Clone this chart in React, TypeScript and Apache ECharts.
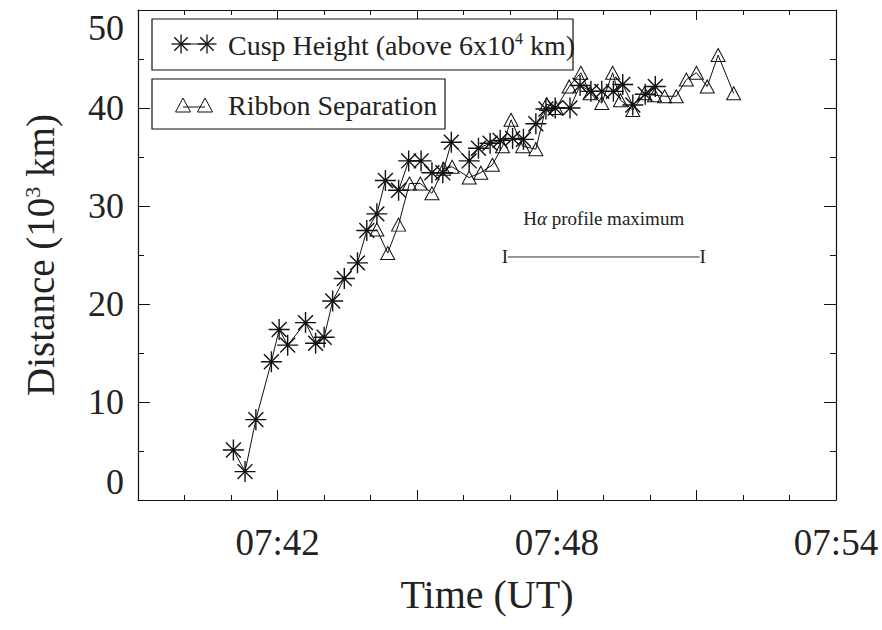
import React, { useEffect, useRef } from "react";
import * as echarts from "echarts";

// ---- data ----
const cuspTimes = [
  "07:41:03", "07:41:18", "07:41:32", "07:41:52", "07:42:02", "07:42:13", "07:42:36", "07:42:49",
  "07:43:00", "07:43:11", "07:43:26", "07:43:43", "07:43:55", "07:44:08", "07:44:19", "07:44:36",
  "07:44:49", "07:45:05", "07:45:19", "07:45:33", "07:45:44", "07:46:07", "07:46:19", "07:46:34",
  "07:46:47", "07:47:03", "07:47:17", "07:47:33", "07:47:46", "07:47:58", "07:48:17", "07:48:30",
  "07:48:44", "07:48:58", "07:49:13", "07:49:25", "07:49:38", "07:49:54", "07:50:07",
];
const cuspValues = [
  5.1, 2.9, 8.2, 14.1, 17.4, 15.8, 18.1, 16.0,
  16.6, 20.3, 22.6, 24.2, 27.5, 29.2, 32.6, 31.6,
  34.6, 34.6, 33.4, 33.4, 36.5, 34.6, 35.9, 36.4,
  36.7, 36.9, 36.8, 38.4, 39.9, 40.0, 40.0, 42.3,
  41.7, 41.7, 41.7, 42.4, 40.3, 41.4, 42.2,
];
const ribbonTimes = [
  "07:44:08", "07:44:22", "07:44:36", "07:44:50", "07:45:04", "07:45:19", "07:45:34", "07:45:45",
  "07:46:07", "07:46:22", "07:46:37", "07:46:50", "07:47:01", "07:47:16", "07:47:33", "07:47:47",
  "07:47:59", "07:48:16", "07:48:31", "07:48:43", "07:48:58", "07:49:12", "07:49:22", "07:49:38",
  "07:49:53", "07:50:06", "07:50:19", "07:50:34", "07:50:47", "07:51:00", "07:51:14", "07:51:28",
  "07:51:48",
];
const ribbonValues = [
  27.6, 25.2, 28.1, 32.3, 32.3, 31.3, 33.8, 34.0,
  32.9, 33.4, 34.2, 36.1, 38.8, 36.1, 35.8, 40.4,
  40.0, 42.2, 43.6, 41.5, 40.5, 43.6, 40.8, 39.8,
  41.5, 41.3, 41.2, 41.2, 42.9, 43.6, 42.2, 45.4,
  41.5,
];
const xTickLabels = ["07:42", "07:48", "07:54"];
const xRange = ["07:39", "07:54"];
const yRange = [0, 50];
const profileStart = "07:46:53";
const profileEnd = "07:51:08";
const profileLevel = 24.8;
const profileText = "H{it|α} profile maximum";
const legendCusp = "Cusp Height (above 6x10{sup|4} km)";
const legendRibbon = "Ribbon Separation";
const xTitle = "Time (UT)";
const yTitle = "Distance (10{sup|3} km)";

const FONT = "'Liberation Serif', 'Times New Roman', Times, serif";
const INK = "#111";

function toMinutes(s: string): number {
  const [h, m, sec] = s.split(":").map(Number);
  return h * 60 + m + (sec || 0) / 60;
}
function fmt(v: number): string {
  const h = Math.floor(v / 60);
  const m = Math.round(v - h * 60);
  return `${String(h).padStart(2, "0")}:${String(m).padStart(2, "0")}`;
}

const ASTERISK =
  "path://M10 0L10 20M0 10L20 10M2.9 2.9L17.1 17.1M2.9 17.1L17.1 2.9";

function asteriskGraphic(cx: number, cy: number, r: number, z: number) {
  const d = r * 0.7071;
  const seg = (x1: number, y1: number, x2: number, y2: number) => ({
    type: "line",
    z,
    shape: { x1, y1, x2, y2 },
    style: { stroke: INK, lineWidth: 1.3 },
  });
  return [
    seg(cx - r, cy, cx + r, cy),
    seg(cx, cy - r, cx, cy + r),
    seg(cx - d, cy - d, cx + d, cy + d),
    seg(cx - d, cy + d, cx + d, cy - d),
  ];
}
function triangleGraphic(cx: number, cy: number, w: number, h: number, z: number) {
  return {
    type: "polygon",
    z,
    shape: {
      points: [
        [cx, cy - h / 2],
        [cx + w / 2, cy + h / 2],
        [cx - w / 2, cy + h / 2],
      ],
    },
    style: { fill: "none", stroke: INK, lineWidth: 1 },
  };
}

export default function App() {
  const ref = useRef<HTMLDivElement>(null);

  useEffect(() => {
    if (!ref.current) return;
    const chart = echarts.init(ref.current, undefined, { renderer: "svg" });

    const lineCommon = {
      axisLine: { show: true, onZero: false, lineStyle: { color: INK, width: 1.2 } },
      splitLine: { show: false },
    };

    const xMin = toMinutes(xRange[0]);
    const xMax = toMinutes(xRange[1]);

    const xAxisBase = {
      type: "value",
      min: xMin,
      max: xMax,
      interval: 3,
      ...lineCommon,
      axisTick: { show: true, inside: true, length: 10, lineStyle: { color: INK } },
      minorTick: { show: true, splitNumber: 3, length: 5, lineStyle: { color: INK } },
    };
    const yAxisBase = {
      type: "value",
      min: yRange[0],
      max: yRange[1],
      interval: 10,
      ...lineCommon,
      axisTick: { show: true, inside: true, length: 12, lineStyle: { color: INK } },
      minorTick: { show: true, splitNumber: 2, length: 6, lineStyle: { color: INK } },
    };

    const option: any = {
      animation: false,
      backgroundColor: "#fff",
      grid: { left: 138, right: 46, top: 10, bottom: 130, containLabel: false },
      xAxis: [
        {
          ...xAxisBase,
          position: "bottom",
          name: xTitle,
          nameLocation: "middle",
          nameGap: 74,
          nameTextStyle: { fontFamily: FONT, fontSize: 40, color: "#222" },
          axisLabel: {
            show: true,
            margin: 24,
            fontFamily: FONT,
            fontSize: 37,
            color: "#222",
            formatter: (v: number) => {
              const s = fmt(v);
              return xTickLabels.includes(s) ? s : "";
            },
          },
        },
        {
          ...xAxisBase,
          position: "top",
          axisLabel: { show: false },
        },
      ],
      yAxis: [
        {
          ...yAxisBase,
          position: "left",
          name: yTitle,
          nameLocation: "middle",
          nameGap: 78,
          nameTextStyle: {
            fontFamily: FONT,
            fontSize: 39,
            color: "#222",
            rich: {
              sup: { fontFamily: FONT, fontSize: 22, color: "#222", verticalAlign: "top", lineHeight: 20, padding: [0, 0, 14, 0] },
            },
          },
          axisLabel: {
            show: true,
            margin: 14,
            fontFamily: FONT,
            fontSize: 36,
            color: "#222",
            verticalAlignMaxLabel: "top",
            verticalAlignMinLabel: "bottom",
          },
        },
        {
          ...yAxisBase,
          position: "right",
          axisLabel: { show: false },
        },
      ],
      series: [
        {
          name: "Cusp Height",
          type: "line",
          xAxisIndex: 0,
          yAxisIndex: 0,
          data: cuspTimes.map((t, i) => [toMinutes(t), cuspValues[i]]),
          symbol: ASTERISK,
          symbolSize: 21,
          showAllSymbol: true,
          lineStyle: { color: INK, width: 1 },
          itemStyle: { color: "none", borderColor: INK, borderWidth: 1.4 },
          z: 3,
        },
        {
          name: "Ribbon Separation",
          type: "line",
          xAxisIndex: 0,
          yAxisIndex: 0,
          data: ribbonTimes.map((t, i) => [toMinutes(t), ribbonValues[i]]),
          symbol: "triangle",
          symbolSize: [14, 13],
          showAllSymbol: true,
          lineStyle: { color: INK, width: 1 },
          itemStyle: { color: "none", borderColor: INK, borderWidth: 1 },
          z: 2,
        },
      ],
    };
    chart.setOption(option);

    const p1 = chart.convertToPixel({ seriesIndex: 0 }, [toMinutes(profileStart), profileLevel]) as number[];
    const p2 = chart.convertToPixel({ seriesIndex: 0 }, [toMinutes(profileEnd), profileLevel]) as number[];

    const graphic: any[] = [
      // profile bar
      {
        type: "line",
        shape: { x1: p1[0] + 3, y1: p1[1], x2: p2[0] - 3, y2: p2[1] },
        style: { stroke: "#333", lineWidth: 1 },
      },
      {
        type: "text",
        x: p1[0],
        y: p1[1],
        style: { text: "I", font: `19px ${FONT}`, fill: "#222", align: "center", verticalAlign: "middle" },
      },
      {
        type: "text",
        x: p2[0],
        y: p2[1],
        style: { text: "I", font: `19px ${FONT}`, fill: "#222", align: "center", verticalAlign: "middle" },
      },
      {
        type: "text",
        x: (p1[0] + p2[0]) / 2,
        y: p1[1] - 38,
        style: {
          text: profileText,
          fontFamily: FONT,
          fontSize: 19,
          fill: "#222",
          align: "center",
          verticalAlign: "middle",
          rich: { it: { fontFamily: FONT, fontSize: 19, fontStyle: "italic", fill: "#222" } },
        },
      },
      // legend box 1
      {
        type: "rect",
        z: 10,
        shape: { x: 152, y: 19, width: 421, height: 51 },
        style: { fill: "#fff", stroke: INK, lineWidth: 1.2 },
      },
      {
        type: "line",
        z: 11,
        shape: { x1: 181, y1: 44, x2: 207, y2: 44 },
        style: { stroke: INK, lineWidth: 1 },
      },
      ...asteriskGraphic(181, 44, 9.5, 11),
      ...asteriskGraphic(207, 44, 9.5, 11),
      {
        type: "text",
        x: 228,
        y: 45,
        z: 11,
        style: {
          text: legendCusp,
          fontFamily: FONT,
          fontSize: 28,
          fill: "#222",
          verticalAlign: "middle",
          rich: {
            sup: { fontFamily: FONT, fontSize: 16, fill: "#222", padding: [0, 0, 14, 0] },
          },
        },
      },
      // legend box 2
      {
        type: "rect",
        z: 10,
        shape: { x: 152, y: 79, width: 293, height: 50 },
        style: { fill: "#fff", stroke: INK, lineWidth: 1.2 },
      },
      {
        type: "line",
        z: 11,
        shape: { x1: 183, y1: 107, x2: 205, y2: 107 },
        style: { stroke: INK, lineWidth: 1 },
      },
      triangleGraphic(183, 105, 15, 14, 11),
      triangleGraphic(205, 105, 15, 14, 11),
      {
        type: "text",
        x: 228,
        y: 105,
        z: 11,
        style: { text: legendRibbon, fontFamily: FONT, fontSize: 28, fill: "#222", verticalAlign: "middle" },
      },
    ];
    chart.setOption({ graphic });

    return () => chart.dispose();
  }, []);

  return (
    <div
      ref={ref}
      style={{ position: "fixed", left: 0, top: 0, width: 882, height: 630, background: "#fff" }}
    />
  );
}
